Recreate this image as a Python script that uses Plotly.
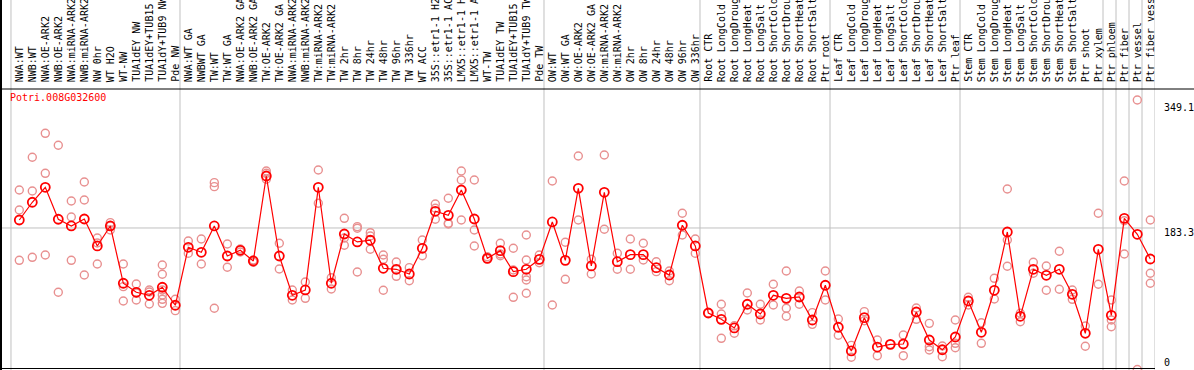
import plotly.graph_objects as go

gene_id = "Potri.008G032600"

categories = [
    "NWA:WT", "NWB:WT", "NWA:OE-ARK2", "NWB:OE-ARK2", "NWA:miRNA-ARK2", "NWB:miRNA-ARK2",
    "NW 0hr", "WT H2O", "WT-NW", "TUA1dEY NW", "TUA1dEY+TUB15 NW", "TUA1dY+TUB9 NW", "Pde NW",
    "NWA:WT GA", "NWBWT GA", "TW:WT", "TW:WT GA", "NWA:OE-ARK2 GA", "NWB:OE-ARK2 GA",
    "TW:OE-ARK2", "TW:OE-ARK2 GA", "NWA:miRNA-ARK2", "NWB:miRNA-ARK2", "TW:miRNA-ARK2",
    "TW:miRNA-ARK2", "TW 2hr", "TW 8hr", "TW 24hr", "TW 48hr", "TW 96hr", "TW 336hr",
    "WT ACC", "35S::etr1-1 H2O", "35S::etr1-1 ACC", "LMX5::etr1-1 H2O", "LMX5::etr1-1 ACC",
    "WT-TW", "TUA1dEY TW", "TUA1dEY+TUB15 TW", "TUA1dY+TUB9 TW", "Pde TW",
    "OW:WT", "OW:WT GA", "OW:OE-ARK2", "OW:OE-ARK2 GA", "OW:miRNA-ARK2", "OW:miRNA-ARK2",
    "OW 2hr", "OW 8hr", "OW 24hr", "OW 48hr", "OW 96hr", "OW 336hr",
    "Root CTR", "Root LongCold", "Root LongDrought", "Root LongHeat", "Root LongSalt",
    "Root ShortCold", "Root ShortDrought", "Root ShortHeat", "Root ShortSalt", "Ptr root",
    "Leaf CTR", "Leaf LongCold", "Leaf LongDrought", "Leaf LongHeat", "Leaf LongSalt",
    "Leaf ShortCold", "Leaf ShortDrought", "Leaf ShortHeat", "Leaf ShortSalt", "Ptr leaf",
    "Stem CTR", "Stem LongCold", "Stem LongDrought", "Stem LongHeat", "Stem LongSalt",
    "Stem ShortCold", "Stem ShortDrought", "Stem ShortHeat", "Stem ShortSalt", "Ptr shoot",
    "Ptr xylem", "Ptr phloem", "Ptr fiber", "Ptr vessel", "Ptr fiber vessel",
]

mean_values = [
    193.6, 216.6, 236.0, 194.6, 185.9, 194.9, 160.0, 185.9, 111.7, 100.0, 96.1, 106.5, 83.2,
    158.3, 151.8, 185.9, 147.0, 154.4, 140.5, 250.6, 147.0, 96.1, 103.0, 236.0, 111.7,
    175.5, 165.2, 167.4, 131.1, 129.8, 123.7, 157.0, 204.9, 199.7, 232.5, 194.9, 144.0,
    153.9, 126.7, 129.8, 142.7,
    191.1, 141.4, 234.7, 134.1, 229.5, 139.6, 148.7, 148.7, 131.9, 122.4, 186.8, 160.0,
    73.2, 65.0, 53.8, 84.5, 71.9, 96.1, 92.2, 93.9, 64.1, 109.1,
    54.7, 24.0, 67.1, 29.1, 32.6, 33.0, 74.5, 38.2, 25.6, 42.1,
    88.7, 48.2, 102.6, 178.1, 68.9, 129.8, 122.0, 129.8, 97.4, 46.9, 155.7,
    70.2, 195.8, 175.1, 143.1,
]

replicate_values = [
    [232.5, 206.6, 141.4], [274.9, 231.2, 145.3], [305.9, 254.1, 148.3], [290.4, 100.0],
    [218.3, 197.5, 141.4], [242.9, 219.6, 122.4], [170.3, 163.9, 136.7], [190.2, 185.9, 180.7],
    [136.7, 107.3, 88.7], [110.7, 99.1, 90.0], [103.0, 100.4, 84.8],
    [135.4, 123.3, 103.0, 96.5, 90.9, 85.7], [90.9, 76.2],
    [166.4, 150.5], [169.0, 136.7], [242.0, 236.8, 79.3], [162.6, 132.4], [156.1, 152.2],
    [141.8, 138.9], [257.1, 254.1, 246.4], [163.5, 130.2], [103.0, 90.0], [113.3, 92.2],
    [258.4, 215.3], [118.9, 104.3], [195.8, 170.3, 160.9], [185.0, 182.9, 126.3],
    [177.2, 172.9, 155.7], [148.3, 142.7, 102.6], [139.2, 129.8, 120.7], [131.9, 115.0],
    [167.7, 147.4], [214.4, 208.8, 194.6], [221.8, 189.4, 188.5], [257.1, 245.5, 193.6],
    [245.5, 180.7, 160.0], [146.1, 143.5], [163.5, 149.6, 147.4], [157.0, 128.9, 93.5],
    [174.2, 141.8, 120.2, 115.9, 98.7], [148.3, 138.3],
    [244.2, 83.5], [164.8, 116.8], [276.5, 193.6], [142.7, 123.7], [277.8, 181.6],
    [150.5, 129.8], [169.0, 129.8], [163.5, 141.8], [139.6, 126.7], [127.6, 115.0],
    [202.3, 174.2], [169.0, 150.5],
    [73.2], [84.5, 71.9, 40.4], [56.7, 46.9], [99.1, 77.1], [84.5, 64.1], [110.4, 83.5],
    [127.6, 79.3, 68.9], [101.7, 84.5], [73.6, 58.5], [127.6, 90.0],
    [65.4, 44.3], [31.3, 15.8], [74.9, 63.2], [38.2, 17.9], [32.6], [44.7, 17.9],
    [79.7, 65.0], [59.8, 29.5, 25.3], [30.4, 16.6], [64.1, 33.9, 28.2],
    [93.5, 83.5], [60.6, 33.9], [118.1, 91.3], [233.8, 167.7, 133.7], [72.8, 61.9],
    [138.9, 124.6], [134.1, 102.6], [153.1, 103.9], [103.0, 90.9], [56.3, 30.1],
    [202.3, 110.4],
    [90.0, 64.1, 55.4], [244.2, 192.7, 149.6], [349.1, 0.0], [193.6, 124.6, 111.7],
]

group_starts = [0, 13, 41, 53, 63, 73, 84, 85, 86, 87, 88]
axis_ticks = [0, 183.3, 349.1]
axis_tick_text = ["0", "183.3", "349.1"]
grid_value = 183.3

MONO = "DejaVu Sans Mono"
W, H = 1194, 370
L, R, T, B = 1, 39, 90, 0
pw, ph = W - L - R, H - T - B

xs = list(range(len(categories)))
rep_x, rep_y = [], []
for i, reps in enumerate(replicate_values):
    for v in reps:
        rep_x.append(i)
        rep_y.append(v)

fig = go.Figure()
fig.add_trace(go.Scatter(
    x=rep_x, y=rep_y, mode="markers",
    marker=dict(symbol="circle-open", size=8, color="#e89090", line=dict(width=1.4, color="#e89090")),
    hoverinfo="skip", showlegend=False, cliponaxis=False,
))
fig.add_trace(go.Scatter(
    x=xs, y=mean_values, mode="lines+markers",
    line=dict(color="#ff0000", width=1.2),
    marker=dict(symbol="circle-open", size=9, color="#ff0000", line=dict(width=1.8, color="#ff0000")),
    showlegend=False,
))

def px_to_paper_y(py):
    return (H - B - py) / ph

def px_to_paper_x(px):
    return (px - L) / pw

shapes = []
for b in group_starts:
    shapes.append(dict(type="line", xref="x", yref="paper", x0=b - 0.64, x1=b - 0.64,
                       y0=0, y1=px_to_paper_y(0), line=dict(color="#c0c0c0", width=1), layer="below"))
shapes.append(dict(type="line", xref="paper", yref="y", x0=0, x1=1, y0=grid_value, y1=grid_value,
                   line=dict(color="#c0c0c0", width=1), layer="below"))
# frame lines
shapes.append(dict(type="line", xref="paper", yref="paper", x0=px_to_paper_x(0), x1=px_to_paper_x(W),
                   y0=px_to_paper_y(89), y1=px_to_paper_y(89), line=dict(color="black", width=1)))
shapes.append(dict(type="line", xref="paper", yref="paper", x0=px_to_paper_x(1), x1=px_to_paper_x(1),
                   y0=0, y1=px_to_paper_y(0), line=dict(color="black", width=2)))
shapes.append(dict(type="line", xref="paper", yref="paper", x0=0, x1=1,
                   y0=px_to_paper_y(368.5), y1=px_to_paper_y(368.5), line=dict(color="black", width=1)))

annotations = []
for i, c in enumerate(categories):
    annotations.append(dict(x=i, xref="x", y=px_to_paper_y(84), yref="paper", text=c,
                            textangle=-90, xanchor="center", yanchor="bottom", showarrow=False,
                            font=dict(family=MONO, size=10, color="black")))
annotations.append(dict(x=px_to_paper_x(8), xref="paper", y=px_to_paper_y(97), yref="paper",
                        text=gene_id, xanchor="left", yanchor="middle", showarrow=False,
                        font=dict(family=MONO, size=10, color="#ff0000")))
tick_shift = {0: 7, 183.3: -5, 349.1: -8}
for v, t in zip(axis_ticks, axis_tick_text):
    annotations.append(dict(x=1, xref="paper", xshift=7, y=v, yref="y", yshift=tick_shift[v],
                            text=t, xanchor="left", yanchor="middle", showarrow=False,
                            font=dict(family=MONO, size=10, color="black")))

fig.update_layout(
    width=W, height=H,
    margin=dict(l=L, r=R, t=T, b=B, pad=0),
    paper_bgcolor="white", plot_bgcolor="white",
    xaxis=dict(range=[-1.408, 87.36], showgrid=False, zeroline=False, showticklabels=False,
               ticks="", showline=False),
    yaxis=dict(range=[-0.65, 362], showgrid=False, zeroline=False, showticklabels=False,
               ticks="", showline=False),
    shapes=shapes, annotations=annotations, showlegend=False,
)

fig.write_html(
    "out.html",
    config={"displayModeBar": False},
    post_script="document.body.style.margin='0';document.body.style.padding='0';",
)
